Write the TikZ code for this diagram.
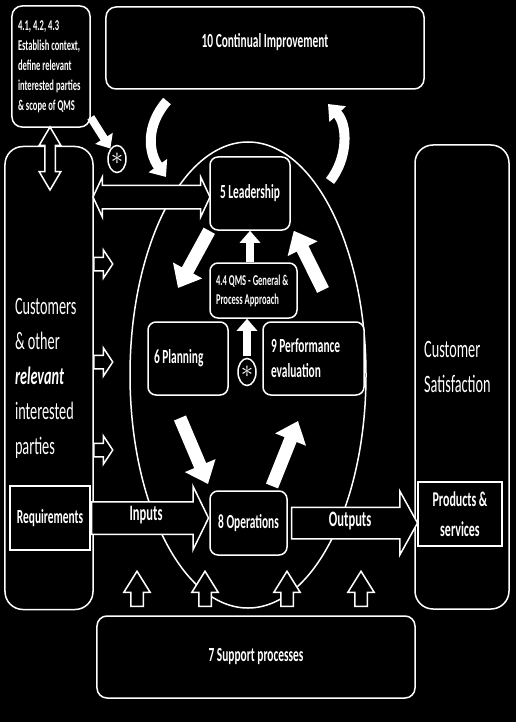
\documentclass[tikz,border=0pt]{standalone}
\usepackage{fontspec}
\setmainfont{Carlito}[FakeStretch=0.57]
\usetikzlibrary{shapes.geometric,shapes.arrows,arrows.meta}
\newcommand{\natspace}{\spaceskip=\fontdimen2\font\xspaceskip=\fontdimen2\font\relax}

\begin{document}
\begin{tikzpicture}[x=1bp, y=-1bp,
    box/.style={draw=white, fill=black, line width=1.5bp, rounded corners=8bp, text=white, inner sep=0pt,
        font=\bfseries\fontsize{20bp}{25bp}\selectfont},
    hollow/.style={single arrow, draw=white, fill=black, line width=1.5bp, inner xsep=0pt, text=white},
    twoway/.style={double arrow, draw=white, fill=black, line width=1.5bp, inner xsep=0pt},
    fat/.style={white, line width=13bp, -{Triangle[length=20bp, width=32bp]}},
    slim/.style={white, line width=8bp, -{Triangle[length=12bp, width=20bp]}},
    curvy/.style={white, line width=10bp, -{Triangle[length=14bp, width=22bp]}},
    star/.style={ellipse, draw=white, fill=black, line width=1.5bp, minimum width=18bp, minimum height=27bp,
        inner sep=0pt, text=white, font=\fontsize{26bp}{26bp}\selectfont}]

    \fill[black] (0,0) rectangle (516,722);

    % the cycle
    \node[ellipse, draw=white, line width=1.5bp, minimum width=236bp, minimum height=466bp] at (248,375) (cycle) {};

    % outer boxes
    \node[box, rounded corners=10bp, minimum width=78bp, minimum height=121bp, text width=66bp,
        font=\bfseries\fontsize{15bp}{20bp}\selectfont] at (51,66.5) (ctx)
        {\natspace 4.1, 4.2, 4.3\\Establish context,\\define relevant\\interested parties\\\& scope of QMS};
    \node[box, rounded corners=10bp, minimum width=318bp, minimum height=82bp] at (265,48) (improve) {};
    \node[text=white, font=\bfseries\fontsize{20bp}{25bp}\selectfont] at ([yshift=6bp]improve.center) (improvetxt)
        {10 Continual Improvement};
    \node[box, rounded corners=18bp, minimum width=88bp, minimum height=463bp, text width=68bp,
        font=\fontsize{25bp}{35bp}\selectfont] at (49,378) (cust)
        {\natspace Customers\\\& other\\\textbf{\textit{relevant}}\\interested\\parties};
    \node[box, sharp corners, minimum width=80bp, minimum height=64bp] at (50,518) (req) {Requirements};
    \node[box, rounded corners=18bp, minimum width=94bp, minimum height=464bp] at (462,377) (sat) {};
    \node[text=white, align=left, anchor=west, inner sep=0pt, font=\fontsize{25bp}{35bp}\selectfont]
        at (424,367) (sattxt) {Customer\\Satisfaction};
    \node[box, sharp corners, minimum width=84bp, minimum height=64bp, align=center,
        font=\bfseries\fontsize{21bp}{30bp}\selectfont] at (460,514) (prod) {Products \&\\services};
    \node[box, rounded corners=10bp, minimum width=318bp, minimum height=82bp] at (256,657) (support) {7 Support processes};

    % inner boxes
    \node[box, minimum width=80bp, minimum height=73bp] at (250,193.5) (lead) {5 Leadership};
    \node[box, minimum width=87bp, minimum height=55bp, text width=75bp,
        font=\bfseries\fontsize{15bp}{19bp}\selectfont] at (253.5,290.5) (qms) {\natspace 4.4 QMS - General \&\\Process Approach};
    \node[box, minimum width=80bp, minimum height=73bp, text width=68bp] at (188,358.5) (plan) {\natspace 6 Planning};
    \node[box, minimum width=101bp, minimum height=73bp, text width=85bp] at (313.5,358.5) (perf) {\natspace 9 Performance\\evaluation};
    \node[box, minimum width=77bp, minimum height=64bp] at (248.5,523) (ops) {8 Operations};

    \node[star] at (117,159) (ast1) {$\ast$};
    \node[star] at (247,372) (ast2) {$\ast$};

    % hollow arrows
    \node[twoway, minimum height=63bp, inner ysep=4.5bp, double arrow head extend=5.5bp, double arrow tip angle=61,
        rotate=90] at (50,158.5) (ctxcust) {};
    \node[twoway, minimum height=117bp, inner ysep=11bp, double arrow head extend=8.5bp, double arrow tip angle=130]
        at (151.5,197) (custlead) {};
    \foreach \y [count=\i] in {264,362,450}
        \node[hollow, minimum height=19bp, inner ysep=6bp, single arrow head extend=7.5bp, single arrow tip angle=113,
            anchor=tail] at (93,\y) (feed\i) {};
    \node[hollow, minimum height=117bp, inner ysep=0pt, text height=18bp, text depth=13bp, single arrow head extend=15.5bp,
        single arrow tip angle=128, anchor=tail, font=\bfseries\fontsize{22bp}{22bp}\selectfont] at (req.east) (inputs) {Inputs};
    \node[hollow, minimum height=126bp, inner ysep=0pt, text height=18bp, text depth=12bp, single arrow head extend=16bp,
        single arrow tip angle=122, anchor=tail, font=\bfseries\fontsize{22bp}{22bp}\selectfont] at ([xshift=3bp]ops.east) (outputs) {Outputs};
    \foreach \x [count=\i] in {137,205,287,361}
        \node[hollow, minimum height=35bp, inner ysep=5.5bp, single arrow head extend=7bp, single arrow tip angle=64,
            rotate=90, anchor=tail] at (\x,607) (up\i) {};

    % solid arrows
    \coordinate (c1) at (167,101);
    \coordinate (c1t) at (166,177);
    \coordinate (c2) at (330,181);
    \coordinate (c2t) at (328,104);
    \coordinate (lp) at (178,288);
    \coordinate (pl) at (323,290);
    \coordinate (po) at (180,418);
    \coordinate (pot) at (208,484);
    \coordinate (op) at (272,486);
    \coordinate (opt) at (298,421);
    \draw[slim] (ctx.-52) -- (ast1);
    \draw[curvy] (c1) .. controls (146,125) and (148,152) .. (c1t);
    \draw[curvy] (c2) .. controls (348,158) and (348,125) .. (c2t);
    \draw[fat] (lead.south west) -- (lp);
    \draw[fat] (pl) -- ([xshift=3bp]lead.south east);
    \draw[fat] (po) -- (pot);
    \draw[fat] (op) -- (opt);
    \draw[slim] (lead.south |- qms.north) -- (lead.south);
    \draw[slim, shorten <=2bp] (ast2.north) -- (ast2.north |- qms.south);
\end{tikzpicture}
\end{document}
